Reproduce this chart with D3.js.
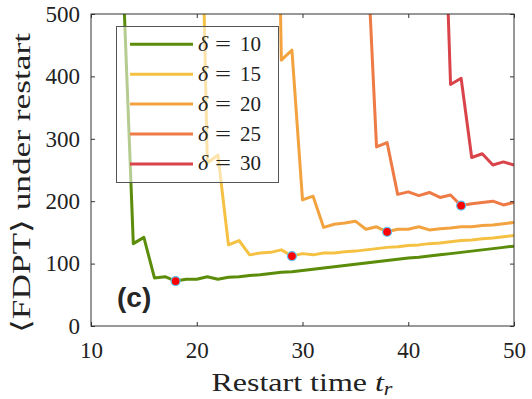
<!DOCTYPE html>
<html lang="en">
<head>
<meta charset="utf-8">
<title>FDPT under restart</title>
<script src="https://cdn.jsdelivr.net/npm/d3@7"></script>
<style>
  body { margin: 0; background: #fff; }
  svg { display: block; }
  text.serif { font-family: 'Liberation Serif', 'DejaVu Serif', serif; }
</style>
</head>
<body>
<script>
// one curve per delta, values at integer restart times starting at firstTr
var deltas = [10, 15, 20, 25, 30];
var colors = ['#5b8c0a', '#f5c143', '#f2a33f', '#ee7a46', '#d9444a'];
var firstTr = [13, 20, 27, 36, 43];

var fdpt10 = [570, 132, 142, 77, 79, 72, 75, 75, 79, 75, 78, 79, 81, 82, 84, 86, 87, 89, 91, 93,
              95, 97, 99, 101, 103, 105, 107, 109, 110, 112, 114, 116, 118, 120, 122, 124, 126, 128];
var fdpt15 = [1060, 261, 274, 130, 137, 114, 117, 118, 122, 112, 116, 114, 117, 117, 119, 120, 122,
              124, 126, 127, 129, 130, 132, 133, 135, 137, 138, 140, 141, 143, 145];
var fdpt20 = [1400, 426, 442, 202, 208, 158, 163, 165, 168, 155, 159, 151, 155, 155, 159, 154, 156,
              157, 159, 159, 161, 162, 164, 166];
var fdpt25 = [642, 287, 294, 211, 215, 209, 214, 206, 210, 193, 196, 198, 200, 194, 198];
var fdpt30 = [900, 387, 397, 270, 276, 258, 263, 258];

var bestTr = [18, 29, 38, 45];   // marked optimum restart times

var xTicks = [10, 20, 30, 40, 50];
var yTicks = [0, 100, 200, 300, 400, 500];

var series = [fdpt10, fdpt15, fdpt20, fdpt25, fdpt30].map(function (vals, i) {
    return {
        delta: deltas[i],
        color: colors[i],
        points: vals.map(function (v, j) { return { t: firstTr[i] + j, v: v }; })
    };
});

var W = 532, H = 399;
var x = d3.scaleLinear().domain([10, 50]).range([91, 514]);
var y = d3.scaleLinear().domain([0, 500]).range([326, 14]);

var svg = d3.select('body').append('svg').attr('width', W).attr('height', H);

svg.append('defs').append('clipPath').attr('id', 'plotclip')
    .append('rect')
    .attr('x', x(10)).attr('y', y(500))
    .attr('width', x(50) - x(10)).attr('height', y(0) - y(500));

var line = d3.line()
    .x(function (d) { return x(d.t); })
    .y(function (d) { return y(d.v); });

var plot = svg.append('g').attr('clip-path', 'url(#plotclip)');
plot.selectAll('path.curve')
    .data(series)
    .enter()
    .append('path')
    .attr('class', 'curve')
    .attr('d', function (d) { return line(d.points); })
    .style('fill', 'none')
    .style('stroke', function (d) { return d.color; })
    .style('stroke-width', 3)
    .style('stroke-linejoin', 'round');

// optimum markers
var dots = bestTr.map(function (t, i) {
    return series[i].points.find(function (q) { return q.t === t; });
});
plot.selectAll('circle.best')
    .data(dots)
    .enter()
    .append('circle')
    .attr('class', 'best')
    .attr('cx', function (d) { return x(d.t); })
    .attr('cy', function (d) { return y(d.v); })
    .attr('r', 4.5)
    .style('fill', '#ff0000')
    .style('stroke', '#5cc6f2')
    .style('stroke-width', 1.2);

// legend
var legend = svg.append('g');
legend.append('rect')
    .attr('x', 116.5).attr('y', 26.5).attr('width', 162).attr('height', 156)
    .style('fill', '#fff').style('fill-opacity', 0.55)
    .style('stroke', '#555').style('stroke-width', 1);

var rows = legend.selectAll('g.row')
    .data(series)
    .enter()
    .append('g')
    .attr('class', 'row')
    .attr('transform', function (d, i) { return 'translate(0,' + (44.3 + i * 29.9) + ')'; });
rows.append('line')
    .attr('x1', 130).attr('x2', 193)
    .style('stroke', function (d) { return d.color; })
    .style('stroke-width', 3);
rows.append('text')
    .attr('class', 'serif')
    .attr('x', 198).attr('y', 6.5)
    .style('font-style', 'italic').style('font-size', '22px')
    .style('fill', '#222')
    .text('δ');
rows.append('text')
    .attr('class', 'serif')
    .attr('x', 215).attr('y', 6.5)
    .attr('textLength', 16).attr('lengthAdjust', 'spacingAndGlyphs')
    .style('font-size', '21px').style('fill', '#222')
    .text('=');
rows.append('text')
    .attr('class', 'serif')
    .attr('x', 240).attr('y', 6.5)
    .style('font-size', '21px').style('fill', '#222')
    .text(function (d) { return d.delta; });

// panel tag
svg.append('text')
    .attr('x', 117).attr('y', 307)
    .style('font-family', "'Liberation Sans', Arial, sans-serif")
    .style('font-weight', 'bold').style('font-size', '28px').style('fill', '#262626')
    .text('(c)');

// axes
function styleAxis(g) {
    g.select('.domain').remove();
    g.attr('font-family', null).attr('font-size', null);
    g.selectAll('.tick line').style('stroke', '#333');
    g.selectAll('.tick text')
        .attr('class', 'serif')
        .style('font-size', '23px').style('fill', '#222');
}

svg.append('g')
    .attr('transform', 'translate(0,' + y(0) + ')')
    .call(d3.axisBottom(x).tickValues(xTicks).tickSize(-4).tickPadding(16))
    .call(styleAxis);
svg.append('g')
    .attr('transform', 'translate(0,' + y(500) + ')')
    .call(d3.axisTop(x).tickValues(xTicks).tickSize(-4).tickFormat(''))
    .call(styleAxis);
svg.append('g')
    .attr('transform', 'translate(' + x(10) + ',0)')
    .call(d3.axisLeft(y).tickValues(yTicks).tickSize(-4).tickPadding(11))
    .call(styleAxis);
svg.append('g')
    .attr('transform', 'translate(' + x(50) + ',0)')
    .call(d3.axisRight(y).tickValues(yTicks).tickSize(-4).tickFormat(''))
    .call(styleAxis);

svg.append('rect')
    .attr('x', x(10)).attr('y', y(500))
    .attr('width', x(50) - x(10)).attr('height', y(0) - y(500))
    .style('fill', 'none').style('stroke', '#333').style('stroke-width', 1);

// axis titles
var xTitle = svg.append('text')
    .attr('class', 'serif')
    .attr('x', 211.5).attr('y', 390.5)
    .attr('textLength', 181).attr('lengthAdjust', 'spacingAndGlyphs')
    .style('font-size', '26px').style('fill', '#222');
xTitle.append('tspan').text('Restart time ');
xTitle.append('tspan').style('font-style', 'italic').text('t');
xTitle.append('tspan').attr('dy', 4).style('font-style', 'italic').style('font-size', '18px').text('r');

svg.append('text')
    .attr('class', 'serif')
    .attr('transform', 'translate(30,' + 333 + ') rotate(-90)')
    .attr('x', 0).attr('y', 0)
    .attr('textLength', 300).attr('lengthAdjust', 'spacingAndGlyphs')
    .style('font-size', '26px').style('fill', '#222')
    .text('⟨FDPT⟩ under restart');
</script>
</body>
</html>
